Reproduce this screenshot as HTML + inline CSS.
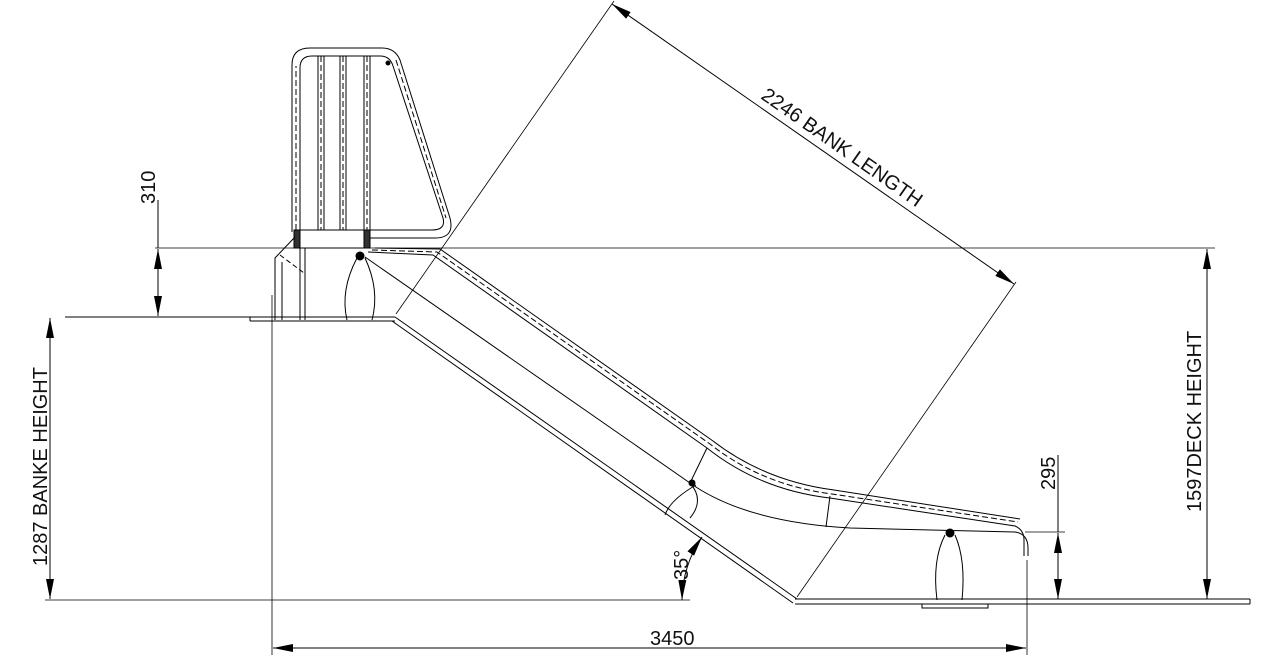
<!DOCTYPE html>
<html><head><style>body{margin:0;background:#fff}svg{display:block}text{font-family:"Liberation Sans",sans-serif;font-size:20px;fill:#111}</style></head><body>
<svg width="1280" height="656" viewBox="0 0 1280 656" xmlns="http://www.w3.org/2000/svg">
<defs><marker id="a" viewBox="0 0 20 8" refX="20" refY="4" markerWidth="20" markerHeight="8" orient="auto-start-reverse" markerUnits="userSpaceOnUse"><path d="M0,0L20,4L0,8z" fill="#000"/></marker></defs>
<g fill="none" stroke="#000" stroke-width="1">
<line x1="65" y1="317" x2="395" y2="317"/><line x1="250" y1="321" x2="395" y2="321"/><line x1="250" y1="317" x2="250" y2="321"/>
<path d="M395,317L797,599M392,321L793,603" />
<line x1="795" y1="599" x2="1250" y2="599"/><line x1="795" y1="604" x2="1250" y2="604"/><line x1="1250" y1="599" x2="1250" y2="604"/>
<rect x="922" y="604" width="66" height="4"/>
<line x1="155" y1="248" x2="1215" y2="248" stroke-width="0.8"/>
<line x1="45" y1="600" x2="690" y2="600" stroke-width="0.8"/>
<line x1="158" y1="249" x2="158" y2="316" marker-start="url(#a)" marker-end="url(#a)"/>
<line x1="158" y1="200" x2="158" y2="248"/>
<line x1="50" y1="318" x2="50" y2="599" marker-start="url(#a)" marker-end="url(#a)"/>
<line x1="1207" y1="249" x2="1207" y2="599" marker-start="url(#a)" marker-end="url(#a)"/>
<line x1="1025" y1="532" x2="1065" y2="532" stroke-width="0.8"/>
<line x1="1058" y1="455" x2="1058" y2="532"/>
<line x1="1058" y1="533" x2="1058" y2="599" marker-start="url(#a)" marker-end="url(#a)"/>
<line x1="272" y1="295" x2="272" y2="655" stroke-width="0.8"/>
<line x1="1027" y1="560" x2="1027" y2="655" stroke-width="0.8"/>
<line x1="273" y1="648" x2="1026" y2="648" marker-start="url(#a)" marker-end="url(#a)"/>
<line x1="396" y1="314" x2="614" y2="1" stroke-width="0.8"/>
<line x1="797" y1="597" x2="1016" y2="282" stroke-width="0.8"/>
<line x1="612" y1="4" x2="1014" y2="284" marker-start="url(#a)" marker-end="url(#a)"/>
<path d="M682,600 A115,115 0 0 1 702,537" marker-start="url(#a)" marker-end="url(#a)"/>
<path d="M292,232V65Q292,48 310,48H382Q395,48 400,60L450,218Q455,238 435,238H370"/>
<path d="M300,232V68Q300,56 312,56H380Q390,56 393,66L443,218Q446,230 432,230H370"/>
<path d="M296,230V66M396,60L446,218" stroke-dasharray="6,3"/>
<path d="M318,56V230M324,56V230M340,56V230M346,56V230M364,56V230M370,56V230"/>
<path d="M321,56V230M343,56V230M367,56V230" stroke-dasharray="6,3"/>
<circle cx="388" cy="63" r="2" fill="#000"/>
<rect x="295" y="230" width="75" height="18"/>
<rect x="294" y="230" width="6" height="18" fill="#333"/><rect x="364" y="230" width="6" height="18" fill="#333"/>
<path d="M295,237L275,258V320M282,262V320M305,248V320M300,248V320"/>
<path d="M280,255L304,273" stroke-dasharray="5,3"/>
<path d="M357,258Q340,290 347,320M365,258Q380,290 372,320"/>
<circle cx="360" cy="256" r="4" fill="#000"/>
<path d="M945,535Q932,560 937,600M955,535Q966,560 962,600"/>
<circle cx="950" cy="533" r="4" fill="#000"/>
<path d="M365,257L690,483Q745,522 850,528L1015,532Q1028,534 1028,548V556"/>
<path d="M368,252L433,255L707,448Q760,490 830,498L1015,526Q1024,530 1024,540V556"/>
<path d="M372,250L437,252L710,444Q762,485 832,494L1018,522" stroke-dasharray="6,3"/>
<path d="M375,248L440,249L713,441Q765,481 834,490L1020,519"/>
<path d="M690,483L707,448M696,485Q670,500 665,515M690,483Q705,500 690,518M830,496L826,527"/>
<circle cx="692" cy="483" r="3" fill="#000"/>
</g>
<text transform="translate(155,204) rotate(-90)">310</text>
<text transform="translate(47,566) rotate(-90)">1287 BANKE HEIGHT</text>
<text transform="translate(1201,512) rotate(-90)">1597DECK HEIGHT</text>
<text transform="translate(1055,490) rotate(-90)">295</text>
<text x="650" y="645">3450</text>
<text transform="translate(760,98) rotate(35)">2246 BANK LENGTH</text>
<text transform="translate(688,580) rotate(-90)">35°</text>
</svg>
</body></html>
